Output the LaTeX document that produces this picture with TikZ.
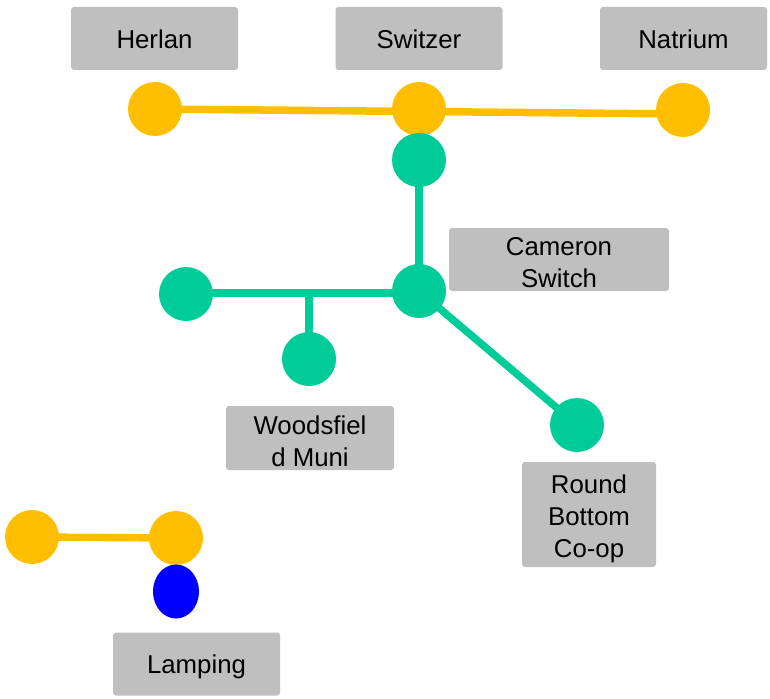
\documentclass[tikz,border=0pt]{standalone}
\usepackage{fontspec}
\setmainfont{Liberation Sans}
\usetikzlibrary{shapes.geometric,backgrounds}
\definecolor{orng}{RGB}{255,191,0}
\definecolor{grn}{RGB}{0,204,153}
\definecolor{lbl}{RGB}{191,191,191}
\begin{document}
\begin{tikzpicture}[x=1pt,y=-1pt,
  box/.style={fill=lbl,rounded corners=3pt,inner sep=0pt,
    minimum width=167pt,minimum height=63pt},
  txt/.style={inner sep=0pt,align=center,yshift=-3pt,font=\fontsize{25.8}{32}\selectfont},
  stn/.style={circle,minimum size=54pt,inner sep=0pt},
  ostn/.style={stn,fill=orng},
  gstn/.style={stn,fill=grn},
  bstn/.style={ellipse,minimum width=46pt,minimum height=54pt,inner sep=0pt,fill=blue},
  oline/.style={draw=orng,line width=7.5pt},
  gline/.style={draw=grn,line width=7.5pt}]
\useasboundingbox (0,0) rectangle (770,698);
% label boxes
\node[box] (lher) at (154.5,38.5) {};
\node[box] (lswi) at (419,38.5) {};
\node[box] (lnat) at (683.5,38.5) {};
\node[box,minimum width=220pt] (lcam) at (559,259.5) {};
\node[box,minimum width=168pt,minimum height=64pt] (lwoo) at (310,438) {};
\node[box,minimum width=134pt,minimum height=105pt] (lrnd) at (589,514.5) {};
\node[box] (llam) at (196.5,664) {};
% label texts
\node[txt,yshift=2pt] (ther) at (lher.center) {Herlan};
\node[txt,yshift=2pt] (tswi) at (lswi.center) {Switzer};
\node[txt,yshift=2pt] (tnat) at (lnat.center) {Natrium};
\node[txt] (tcam) at (lcam.center) {Cameron\\Switch};
\node[txt] (twoo) at (lwoo.center) {Woodsfiel\\d Muni};
\node[txt,yshift=-1.5pt] (trnd) at (lrnd.center) {Round\\Bottom\\Co-op};
\node[txt] (tlam) at (llam.center) {Lamping};
% stations
\node[ostn] (her) at (155,109) {};
\node[ostn] (swi) at (419,109) {};
\node[ostn] (nat) at (683,110) {};
\node[gstn] (gtop) at (419,160) {};
\node[gstn] (cam) at (419,291) {};
\node[gstn] (gleft) at (186,294) {};
\node[gstn] (woo) at (309,359) {};
\node[gstn] (rnd) at (577,425) {};
\node[ostn] (lo1) at (32,537) {};
\node[ostn] (lo2) at (176,538) {};
\node[bstn] (lam) at (176,591.5) {};
\coordinate (jn) at (309,293);
\begin{pgfonlayer}{background}
\draw[oline] (her.center) -- ([yshift=-4pt]nat.center);
\draw[gline] (gtop.center) -- (cam.center);
\draw[gline] ([yshift=1pt]gleft.center) -- ([yshift=-2pt]cam.center);
\draw[gline] (jn) -- (woo.center);
\draw[gline] (cam.center) -- (rnd.center);
\draw[oline] (lo1.center) -- (lo2.center);
\end{pgfonlayer}
\end{tikzpicture}
\end{document}
